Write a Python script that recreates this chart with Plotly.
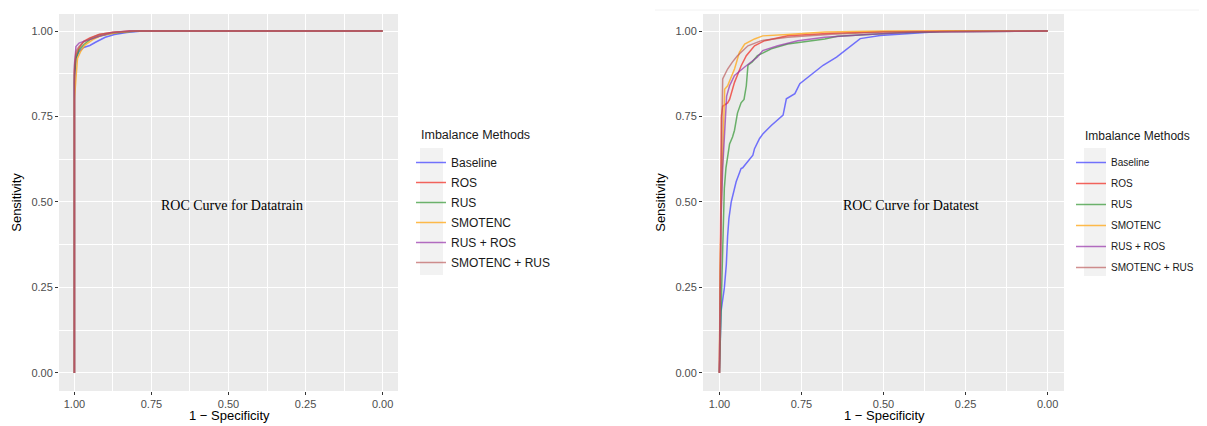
import plotly.graph_objects as go

methods = ["Baseline", "ROS", "RUS", "SMOTENC", "RUS + ROS", "SMOTENC + RUS"]
colors = ["rgba(70,70,255,0.75)", "rgba(240,50,40,0.75)", "rgba(50,150,50,0.7)",
          "rgba(255,170,30,0.8)", "rgba(150,50,170,0.7)", "rgba(185,85,85,0.65)"]

# ---- Datatrain ROC (specificity, sensitivity) ----
train_spec_baseline = [1, 1, 0.995, 0.985, 0.97, 0.95, 0.93, 0.90, 0.87, 0.83, 0.78, 0]
train_sens_baseline = [0, 0.85, 0.92, 0.94, 0.952, 0.958, 0.968, 0.982, 0.99, 0.996, 1.0, 1.0]
train_spec_ros = [1, 1, 0.995, 0.985, 0.97, 0.95, 0.92, 0.88, 0.82, 0]
train_sens_ros = [0, 0.88, 0.93, 0.95, 0.97, 0.98, 0.99, 0.996, 1.0, 1.0]
train_spec_rus = [1, 1, 0.995, 0.985, 0.97, 0.95, 0.92, 0.88, 0.82, 0.78, 0]
train_sens_rus = [0, 0.87, 0.92, 0.945, 0.96, 0.975, 0.985, 0.993, 0.999, 1.0, 1.0]
train_spec_smotenc = [1, 1, 0.995, 0.99, 0.98, 0.965, 0.94, 0.91, 0.86, 0.80, 0]
train_sens_smotenc = [0, 0.80, 0.86, 0.92, 0.94, 0.96, 0.975, 0.988, 0.996, 1.0, 1.0]
train_spec_rusros = [1, 1, 0.995, 0.985, 0.97, 0.95, 0.92, 0.88, 0.82, 0]
train_sens_rusros = [0, 0.90, 0.955, 0.965, 0.97, 0.975, 0.985, 0.995, 1.0, 1.0]
train_spec_smrus = [1, 1, 0.995, 0.985, 0.97, 0.95, 0.92, 0.87, 0.80, 0]
train_sens_smrus = [0, 0.89, 0.94, 0.955, 0.968, 0.978, 0.99, 0.997, 1.0, 1.0]

# ---- Datatest ROC (specificity, sensitivity) ----
test_spec_baseline = [1.0, 0.998, 0.995, 0.985, 0.979, 0.975, 0.971, 0.964, 0.949, 0.934, 0.929,
                      0.898, 0.893, 0.878, 0.867, 0.842, 0.806, 0.796, 0.770, 0.755, 0.724,
                      0.684, 0.643, 0.612, 0.571, 0.510, 0.429, 0.327, 0.0]
test_sens_baseline = [0.0, 0.07, 0.18, 0.248, 0.316, 0.40, 0.452, 0.500, 0.559, 0.598, 0.60,
                      0.637, 0.656, 0.685, 0.700, 0.724, 0.754, 0.802, 0.817, 0.846, 0.870,
                      0.900, 0.924, 0.948, 0.978, 0.987, 0.992, 0.999, 1.0]
test_spec_ros = [1.0, 0.998, 0.995, 0.994, 0.99, 0.975, 0.969, 0.954, 0.934, 0.918, 0.893,
                 0.862, 0.792, 0.658, 0.50, 0.30, 0.0]
test_sens_ros = [0.0, 0.30, 0.45, 0.75, 0.78, 0.79, 0.80, 0.85, 0.898, 0.928, 0.957,
                 0.972, 0.986, 0.994, 0.998, 1.0, 1.0]
test_spec_rus = [1.0, 0.995, 0.99, 0.985, 0.98, 0.975, 0.969, 0.96, 0.954, 0.945, 0.934,
                 0.925, 0.918, 0.913, 0.90, 0.884, 0.86, 0.842, 0.792, 0.74, 0.679,
                 0.64, 0.55, 0.45, 0.30, 0.0]
test_sens_rus = [0.0, 0.20, 0.32, 0.54, 0.60, 0.64, 0.67, 0.69, 0.71, 0.76, 0.79,
                 0.80, 0.84, 0.90, 0.91, 0.928, 0.94, 0.948, 0.962, 0.969, 0.977,
                 0.985, 0.99, 0.995, 0.999, 1.0]
test_spec_smotenc = [1.0, 0.998, 0.994, 0.988, 0.984, 0.975, 0.954, 0.939, 0.923, 0.893,
                     0.868, 0.792, 0.679, 0.50, 0.0]
test_sens_smotenc = [0.0, 0.30, 0.50, 0.70, 0.83, 0.84, 0.889, 0.938, 0.962, 0.977,
                     0.986, 0.99, 0.997, 1.0, 1.0]
test_spec_rusros = [1.0, 0.998, 0.995, 0.99, 0.985, 0.98, 0.978, 0.969, 0.954, 0.923,
                    0.884, 0.868, 0.822, 0.761, 0.679, 0.55, 0.40, 0.0]
test_sens_rusros = [0.0, 0.20, 0.45, 0.60, 0.70, 0.78, 0.81, 0.84, 0.87, 0.895,
                    0.924, 0.943, 0.957, 0.972, 0.982, 0.99, 0.997, 1.0]
test_spec_smrus = [1.0, 0.998, 0.995, 0.992, 0.99, 0.975, 0.96, 0.945, 0.913, 0.872,
                   0.792, 0.658, 0.50, 0.0]
test_sens_smrus = [0.0, 0.25, 0.50, 0.75, 0.86, 0.889, 0.91, 0.928, 0.957, 0.972,
                   0.982, 0.991, 0.997, 1.0]

train_specs = [train_spec_baseline, train_spec_ros, train_spec_rus, train_spec_smotenc,
               train_spec_rusros, train_spec_smrus]
train_senss = [train_sens_baseline, train_sens_ros, train_sens_rus, train_sens_smotenc,
               train_sens_rusros, train_sens_smrus]
test_specs = [test_spec_baseline, test_spec_ros, test_spec_rus, test_spec_smotenc,
              test_spec_rusros, test_spec_smrus]
test_senss = [test_sens_baseline, test_sens_ros, test_sens_rus, test_sens_smotenc,
              test_sens_rusros, test_sens_smrus]

tick_vals = [1.0, 0.75, 0.5, 0.25, 0.0]
tick_text = ["1.00", "0.75", "0.50", "0.25", "0.00"]

# The page body has an 8px margin, so the figure is offset to fill the window.
W, H, OFF = 1199, 418, 8


def fx(px):
    return (px - OFF) / W


def fy(py):
    return 1 - (py - OFF) / H


fig = go.Figure()
for i, m in enumerate(methods):
    fig.add_trace(go.Scatter(x=train_specs[i], y=train_senss[i], mode="lines", name=m,
                             line=dict(color=colors[i], width=1.5), xaxis="x", yaxis="y",
                             legend="legend", legendgroup="tr" + str(i)))
for i, m in enumerate(methods):
    fig.add_trace(go.Scatter(x=test_specs[i], y=test_senss[i], mode="lines", name=m,
                             line=dict(color=colors[i], width=1.5), xaxis="x2", yaxis="y2",
                             legend="legend2", legendgroup="te" + str(i)))

axis_common = dict(
    showgrid=True, gridcolor="white", gridwidth=1.3, zeroline=False,
    tickvals=tick_vals, ticktext=tick_text, ticks="outside", ticklen=3,
    tickcolor="#333333", tickfont=dict(family="Liberation Sans, Arial", size=11, color="#4D4D4D"),
    minor=dict(tickvals=[0.125, 0.375, 0.625, 0.875], showgrid=True, gridcolor="white",
               gridwidth=0.6, ticks=""),
    showline=False, automargin=False,
)

xdom1 = [fx(59), fx(398)]
xdom2 = [fx(703), fx(1064)]
ydom = [fy(391), fy(14)]

title_font = dict(family="Liberation Sans, Arial", size=13, color="black")
leg_font = "Liberation Sans, Arial"

fig.update_layout(
    width=W, height=H,
    margin=dict(l=0, r=0, t=0, b=0),
    paper_bgcolor="white", plot_bgcolor="#EBEBEB",
    xaxis=dict(domain=xdom1, range=[1.05, -0.05], anchor="y", **axis_common),
    yaxis=dict(domain=ydom, range=[-0.053, 1.05], anchor="x",
               title=dict(text="Sensitivity", font=title_font, standoff=6), **axis_common),
    xaxis2=dict(domain=xdom2, range=[1.05, -0.05], anchor="y2", **axis_common),
    yaxis2=dict(domain=ydom, range=[-0.053, 1.05], anchor="x2",
                title=dict(text="Sensitivity", font=title_font, standoff=6), **axis_common),
    legend=dict(x=fx(411), y=fy(148), xanchor="left", yanchor="top",
                bgcolor="rgba(0,0,0,0)", tracegroupgap=1,
                font=dict(family=leg_font, size=12, color="#1A1A1A"),
                itemwidth=30),
    legend2=dict(x=fx(1071), y=fy(148), xanchor="left", yanchor="top",
                 bgcolor="rgba(0,0,0,0)", tracegroupgap=2,
                 font=dict(family=leg_font, size=10, color="#1A1A1A"),
                 itemwidth=30),
    annotations=[
        dict(x=0.49, y=0.49, xref="x", yref="y", text="ROC Curve for Datatrain",
             showarrow=False, font=dict(family="Liberation Serif, Times New Roman", size=14, color="black")),
        dict(x=0.415, y=0.49, xref="x2", yref="y2", text="ROC Curve for Datatest",
             showarrow=False, font=dict(family="Liberation Serif, Times New Roman", size=14, color="black")),
        dict(x=fx(229), y=fy(415), xref="paper", yref="paper", xanchor="center", yanchor="middle",
             text="1 − Specificity", showarrow=False, font=title_font),
        dict(x=fx(884), y=fy(415), xref="paper", yref="paper", xanchor="center", yanchor="middle",
             text="1 − Specificity", showarrow=False, font=title_font),
        dict(x=fx(419), y=fy(135), xref="paper", yref="paper", xanchor="left", yanchor="middle",
             text="Imbalance Methods", showarrow=False,
             font=dict(family=leg_font, size=12.5, color="#1A1A1A")),
        dict(x=fx(1083), y=fy(136), xref="paper", yref="paper", xanchor="left", yanchor="middle",
             text="Imbalance Methods", showarrow=False,
             font=dict(family=leg_font, size=12, color="#1A1A1A")),
    ],
    shapes=[
        dict(type="line", xref="paper", yref="paper", x0=fx(655), x1=1, y0=fy(10),
             y1=fy(10), line=dict(color="#F2F2F2", width=1)),
        dict(type="rect", xref="paper", yref="paper", x0=fx(420), x1=fx(443), y0=fy(275),
             y1=fy(148), fillcolor="#F2F2F2", line=dict(width=0), layer="below"),
        dict(type="rect", xref="paper", yref="paper", x0=fx(1084), x1=fx(1106), y0=fy(276),
             y1=fy(148), fillcolor="#F2F2F2", line=dict(width=0), layer="below"),
    ],
)

fig.write_html("out.html")
